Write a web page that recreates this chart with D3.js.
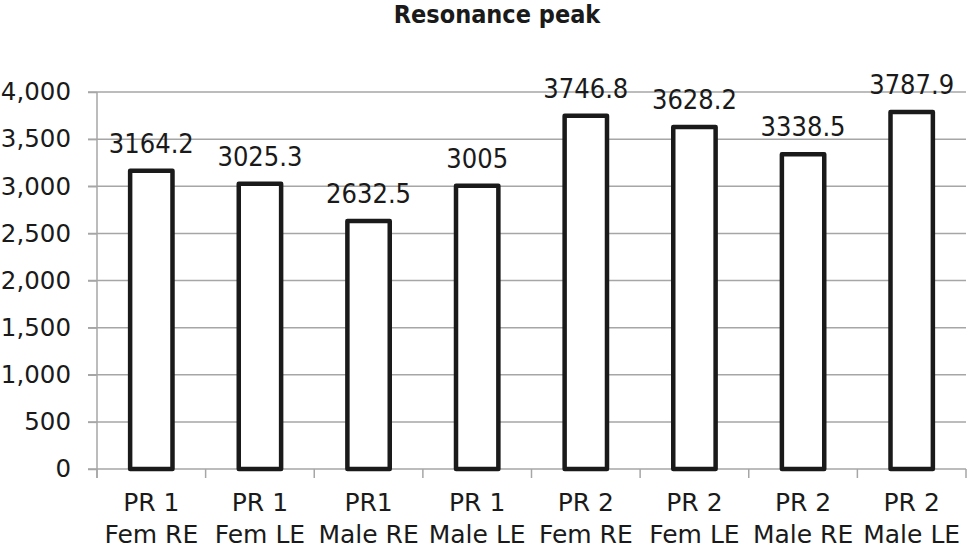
<!DOCTYPE html>
<html>
<head>
<meta charset="utf-8">
<script src="https://cdn.jsdelivr.net/npm/d3@7"></script>
<style>
  body { margin: 0; background: #fff; }
  svg text { fill: #1a1a1a; }
</style>
</head>
<body>
<div id="chart"></div>
<script>
var chartTitle = "Resonance peak";
var groupLine1 = ["PR 1", "PR 1", "PR1", "PR 1", "PR 2", "PR 2", "PR 2", "PR 2"];
var groupLine2 = ["Fem RE", "Fem LE", "Male RE", "Male LE", "Fem RE", "Fem LE", "Male RE", "Male LE"];
var peakValues = [3164.2, 3025.3, 2632.5, 3005, 3746.8, 3628.2, 3338.5, 3787.9];
var peakLabels = ["3164.2", "3025.3", "2632.5", "3005", "3746.8", "3628.2", "3338.5", "3787.9"];
var yTicks = [0, 500, 1000, 1500, 2000, 2500, 3000, 3500, 4000];

var width = 979, height = 549;
var margin = {left: 97, right: 13, top: 92, bottom: 80};

var svg = d3.select("#chart").append("svg")
    .attr("width", width)
    .attr("height", height);

var ids = d3.range(peakValues.length);

var x = d3.scaleBand()
    .domain(ids)
    .range([margin.left, width - margin.right])
    .paddingInner(0.61)
    .paddingOuter(0.305);

var y = d3.scaleLinear()
    .domain([0, 4000])
    .range([height - margin.bottom, margin.top]);

// gridlines
svg.append("g")
    .selectAll("line")
    .data(yTicks)
    .enter()
    .append("line")
    .attr("x1", margin.left - 9)
    .attr("x2", width - margin.right)
    .attr("y1", function(d){ return y(d); })
    .attr("y2", function(d){ return y(d); })
    .style("stroke", "#a6a6a6")
    .attr("stroke-width", 1.5);

// y axis
var yAxis = svg.append("g")
    .attr("transform", "translate(" + margin.left + ",0)")
    .call(d3.axisLeft(y).tickValues(yTicks).tickSize(9).tickPadding(17)
        .tickFormat(d3.format(",")));
yAxis.select(".domain").remove();
yAxis.selectAll(".tick line").style("stroke", "#a6a6a6").attr("stroke-width", 1.5);
yAxis.selectAll("text")
    .style("font-family", "DejaVu Sans")
    .style("font-size", "24.5px")
    .style("fill", "#1a1a1a");

svg.append("line")
    .attr("x1", margin.left).attr("x2", margin.left)
    .attr("y1", margin.top).attr("y2", y(0) + 9)
    .style("stroke", "#a6a6a6")
    .attr("stroke-width", 1.5);

// x axis tick marks at band boundaries
var bounds = ids.map(function(i){ return x(i) - x.step()*x.paddingInner()/2; });
bounds.push(width - margin.right);
svg.append("g")
    .selectAll("line")
    .data(bounds)
    .enter()
    .append("line")
    .attr("x1", function(d){ return d; })
    .attr("x2", function(d){ return d; })
    .attr("y1", y(0))
    .attr("y2", y(0) + 9)
    .style("stroke", "#a6a6a6")
    .attr("stroke-width", 1.5);

// bars
svg.append("g")
    .selectAll("rect")
    .data(ids)
    .enter()
    .append("rect")
    .attr("x", function(i){ return x(i); })
    .attr("y", function(i){ return y(peakValues[i]); })
    .attr("width", x.bandwidth())
    .attr("height", function(i){ return y(0) - y(peakValues[i]); })
    .style("fill", "#fff")
    .style("stroke", "#1a1a1a")
    .attr("stroke-width", 4.5)
    .attr("stroke-linejoin", "round");

// value labels
svg.append("g")
    .selectAll("text")
    .data(ids)
    .enter()
    .append("text")
    .attr("x", function(i){ return x(i) + x.bandwidth()/2; })
    .attr("y", function(i){ return y(peakValues[i]) - 18; })
    .attr("text-anchor", "middle")
    .style("font-family", "DejaVu Sans Condensed")
    .style("font-size", "27px")
    .text(function(i){ return peakLabels[i]; });

// category labels
var cat = svg.append("g")
    .selectAll("text")
    .data(ids)
    .enter()
    .append("text")
    .attr("text-anchor", "middle")
    .style("font-family", "DejaVu Sans")
    .style("font-size", "25px");
cat.append("tspan")
    .attr("x", function(i){ return x(i) + x.bandwidth()/2; })
    .attr("y", 511)
    .text(function(i){ return groupLine1[i]; });
cat.append("tspan")
    .attr("x", function(i){ return x(i) + x.bandwidth()/2; })
    .attr("y", 543)
    .text(function(i){ return groupLine2[i]; });

// title
svg.append("text")
    .attr("x", 497)
    .attr("y", 23)
    .attr("text-anchor", "middle")
    .style("font-family", "DejaVu Sans Condensed")
    .style("font-weight", "bold")
    .style("font-size", "25px")
    .text(chartTitle);
</script>
</body>
</html>
